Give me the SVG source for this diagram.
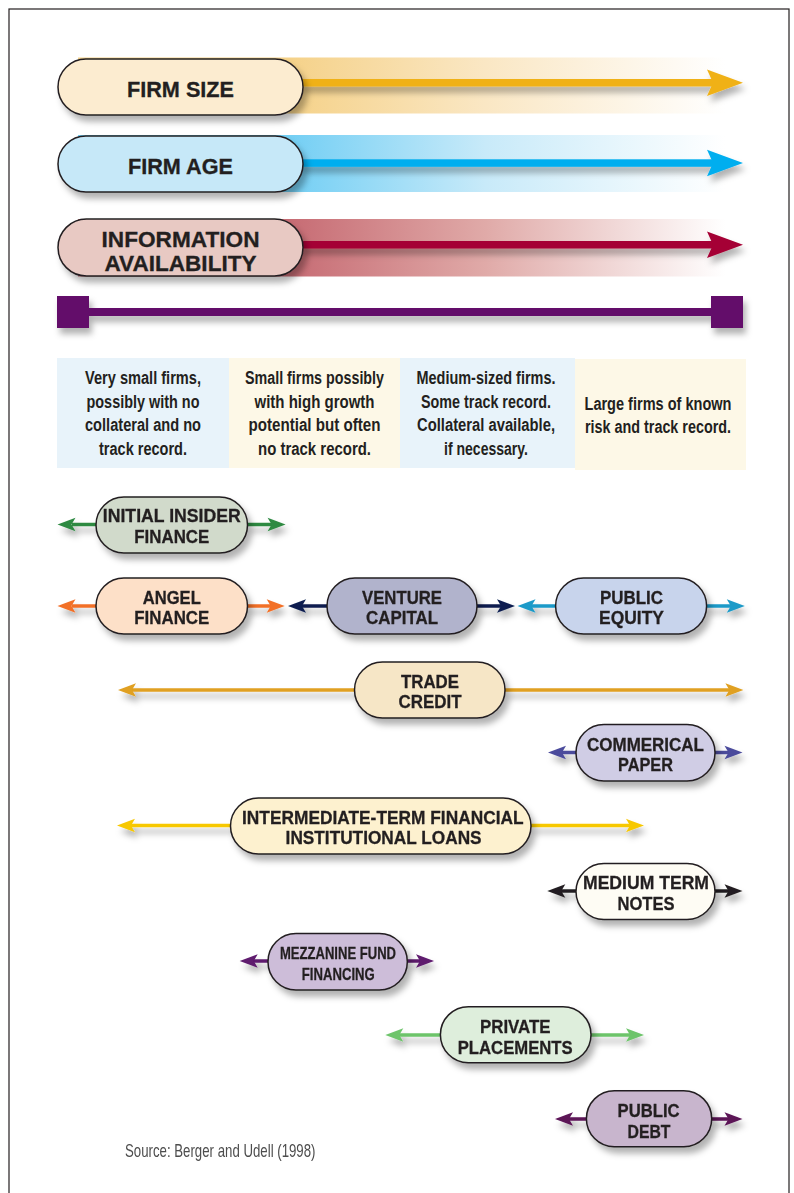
<svg xmlns="http://www.w3.org/2000/svg" xmlns:xlink="http://www.w3.org/1999/xlink" width="794" height="1193" viewBox="0 0 794 1193">
<defs>
<style>
.pill{stroke:#231f20;stroke-width:1.5}
.t{font-family:"Liberation Sans",Arial,sans-serif;font-weight:bold;fill:#231f20;text-anchor:middle;stroke:#231f20;stroke-width:0.3}
.big{font-size:22px}
.nd{font-size:18.5px}
.sm{font-size:17px}
.desc{font-family:"Liberation Sans",Arial,sans-serif;font-weight:bold;font-size:17.5px;fill:#231f20;text-anchor:middle}
.ln{stroke-width:3.5;fill:none}
</style>
<filter id="sh" x="-20%" y="-40%" width="140%" height="200%">
<feDropShadow dx="4" dy="6" stdDeviation="3" flood-color="#000" flood-opacity="0.3"/>
</filter>
<filter id="sh2" x="-10%" y="-100%" width="120%" height="400%">
<feDropShadow dx="3" dy="6" stdDeviation="3" flood-color="#000" flood-opacity="0.3"/>
</filter>
<linearGradient id="gSize" gradientUnits="userSpaceOnUse" x1="290" y1="0" x2="725" y2="0">
<stop offset="0" stop-color="#f5d28a"/>
<stop offset="0.45" stop-color="#fae7c4"/>
<stop offset="1" stop-color="#ffffff"/>
</linearGradient>
<linearGradient id="gAge" gradientUnits="userSpaceOnUse" x1="290" y1="0" x2="725" y2="0">
<stop offset="0" stop-color="#74cff4"/>
<stop offset="0.45" stop-color="#c8eaf9"/>
<stop offset="1" stop-color="#ffffff"/>
</linearGradient>
<linearGradient id="gInfo" gradientUnits="userSpaceOnUse" x1="290" y1="0" x2="725" y2="0">
<stop offset="0" stop-color="#c76c74"/>
<stop offset="0.45" stop-color="#e0aaa8"/>
<stop offset="1" stop-color="#ffffff"/>
</linearGradient>
<path id="ah" d="M0,0 L-18,-6.7 L-14,0 L-18,6.7 Z"/>
<path id="bh" d="M0,0 L-36,-13.3 L-30,0 L-36,13.3 Z"/>
</defs>

<rect x="9" y="9" width="780" height="1200" fill="#ffffff" stroke="#231f20" stroke-width="1.2"/>

<!-- header scales -->
<g id="firm-size">
<rect x="78" y="57.5" width="647" height="56" fill="url(#gSize)"/>
<g filter="url(#sh2)" fill="#f0b117">
<rect x="300" y="79" width="415" height="7.5"/>
<use xlink:href="#bh" x="743" y="82.7"/>
</g>
<rect class="pill" x="58" y="59" width="245" height="56" rx="28" fill="#fcecd0" filter="url(#sh)"/>
<text class="t big" x="180.5" y="97" textLength="107" lengthAdjust="spacingAndGlyphs">FIRM SIZE</text>
</g>

<g id="firm-age">
<rect x="78" y="135" width="647" height="57" fill="url(#gAge)"/>
<g filter="url(#sh2)" fill="#00aeef">
<rect x="300" y="159.3" width="415" height="7.5"/>
<use xlink:href="#bh" x="743" y="163"/>
</g>
<rect class="pill" x="58" y="136" width="245" height="56" rx="28" fill="#c6e8f8" filter="url(#sh)"/>
<text class="t big" x="180.5" y="174" textLength="105" lengthAdjust="spacingAndGlyphs">FIRM AGE</text>
</g>

<g id="info-availability">
<rect x="78" y="219" width="647" height="57.5" fill="url(#gInfo)"/>
<g filter="url(#sh2)" fill="#a50034">
<rect x="300" y="241" width="415" height="7.5"/>
<use xlink:href="#bh" x="743" y="244.7"/>
</g>
<rect class="pill" x="58" y="219" width="245" height="57" rx="28.5" fill="#e8c9c3" filter="url(#sh)"/>
<text class="t big" x="180.5" y="246.5" textLength="158" lengthAdjust="spacingAndGlyphs" font-size="23">INFORMATION</text>
<text class="t big" x="180.5" y="270.5" textLength="152" lengthAdjust="spacingAndGlyphs" font-size="23">AVAILABILITY</text>
</g>

<g id="scale-bar" fill="#640f6a" filter="url(#sh2)">
<rect x="85" y="308" width="630" height="8"/>
<rect x="57" y="296" width="32" height="32"/>
<rect x="711" y="296" width="32" height="32"/>
</g>

<!-- descriptions -->
<g id="desc-1">
<rect x="57" y="358" width="172" height="110" fill="#e8f3fa"/>
<text class="desc" x="143" y="384" textLength="116" lengthAdjust="spacingAndGlyphs">Very small firms,</text>
<text class="desc" x="143" y="408" textLength="113" lengthAdjust="spacingAndGlyphs">possibly with no</text>
<text class="desc" x="143" y="431" textLength="116" lengthAdjust="spacingAndGlyphs">collateral and no</text>
<text class="desc" x="143" y="455" textLength="88" lengthAdjust="spacingAndGlyphs">track record.</text>
</g>
<g id="desc-2">
<rect x="229" y="358" width="171" height="110" fill="#fdf8e7"/>
<text class="desc" x="314.5" y="384" textLength="139" lengthAdjust="spacingAndGlyphs">Small firms possibly</text>
<text class="desc" x="314.5" y="408" textLength="120" lengthAdjust="spacingAndGlyphs">with high growth</text>
<text class="desc" x="314.5" y="431" textLength="132" lengthAdjust="spacingAndGlyphs">potential but often</text>
<text class="desc" x="314.5" y="455" textLength="113" lengthAdjust="spacingAndGlyphs">no track record.</text>
</g>
<g id="desc-3">
<rect x="400" y="358" width="175" height="110" fill="#e8f3fa"/>
<text class="desc" x="486" y="384" textLength="139" lengthAdjust="spacingAndGlyphs">Medium-sized firms.</text>
<text class="desc" x="486" y="408" textLength="130" lengthAdjust="spacingAndGlyphs">Some track record.</text>
<text class="desc" x="486" y="431" textLength="138" lengthAdjust="spacingAndGlyphs">Collateral available,</text>
<text class="desc" x="486" y="455" textLength="84" lengthAdjust="spacingAndGlyphs">if necessary.</text>
</g>
<g id="desc-4">
<rect x="575" y="359" width="171" height="111" fill="#fdf8e7"/>
<text class="desc" x="658" y="410" textLength="147" lengthAdjust="spacingAndGlyphs">Large firms of known</text>
<text class="desc" x="658" y="433" textLength="146" lengthAdjust="spacingAndGlyphs">risk and track record.</text>
</g>

<!-- connectors -->
<g id="connectors" filter="url(#sh2)">
<line class="ln" stroke="#2f8a43" x1="72" y1="524.5" x2="96" y2="524.5"/>
<line class="ln" stroke="#2f8a43" x1="247" y1="524.5" x2="272" y2="524.5"/>
<use xlink:href="#ah" fill="#2f8a43" transform="translate(57.5,524.5) scale(-1,1)"/>
<use xlink:href="#ah" fill="#2f8a43" x="285.6" y="524.5"/>

<line class="ln" stroke="#f26f26" x1="72" y1="606" x2="96" y2="606"/>
<line class="ln" stroke="#f26f26" x1="247" y1="606" x2="271" y2="606"/>
<use xlink:href="#ah" fill="#f26f26" transform="translate(57.5,606) scale(-1,1)"/>
<use xlink:href="#ah" fill="#f26f26" x="284.7" y="606"/>

<line class="ln" stroke="#0c1e50" x1="302" y1="606" x2="327" y2="606"/>
<line class="ln" stroke="#0c1e50" x1="477" y1="606" x2="501" y2="606"/>
<use xlink:href="#ah" fill="#0c1e50" transform="translate(288,606) scale(-1,1)"/>
<use xlink:href="#ah" fill="#0c1e50" x="515" y="606"/>

<line class="ln" stroke="#1c9ac8" x1="531" y1="606" x2="556" y2="606"/>
<line class="ln" stroke="#1c9ac8" x1="706" y1="606" x2="731" y2="606"/>
<use xlink:href="#ah" fill="#1c9ac8" transform="translate(517.5,606) scale(-1,1)"/>
<use xlink:href="#ah" fill="#1c9ac8" x="744.8" y="606"/>

<line class="ln" stroke="#e0a020" x1="132" y1="690" x2="355" y2="690"/>
<line class="ln" stroke="#e0a020" x1="505" y1="690" x2="730" y2="690"/>
<use xlink:href="#ah" fill="#e0a020" transform="translate(118,690) scale(-1,1)"/>
<use xlink:href="#ah" fill="#e0a020" x="743.4" y="690"/>

<line class="ln" stroke="#4b4b9c" x1="562" y1="752.5" x2="576" y2="752.5"/>
<line class="ln" stroke="#4b4b9c" x1="715" y1="752.5" x2="729" y2="752.5"/>
<use xlink:href="#ah" fill="#4b4b9c" transform="translate(548,752.5) scale(-1,1)"/>
<use xlink:href="#ah" fill="#4b4b9c" x="742.5" y="752.5"/>

<line class="ln" stroke="#f7c800" x1="131" y1="825.5" x2="231" y2="825.5"/>
<line class="ln" stroke="#f7c800" x1="531" y1="825.5" x2="630" y2="825.5"/>
<use xlink:href="#ah" fill="#f7c800" transform="translate(117,825.5) scale(-1,1)"/>
<use xlink:href="#ah" fill="#f7c800" x="644" y="825.5"/>

<line class="ln" stroke="#231f20" x1="561" y1="891" x2="576" y2="891"/>
<line class="ln" stroke="#231f20" x1="715" y1="891" x2="729" y2="891"/>
<use xlink:href="#ah" fill="#231f20" transform="translate(547.3,891) scale(-1,1)"/>
<use xlink:href="#ah" fill="#231f20" x="742.5" y="891"/>

<line class="ln" stroke="#5e1a6e" x1="253" y1="961" x2="268" y2="961"/>
<line class="ln" stroke="#5e1a6e" x1="407" y1="961" x2="420" y2="961"/>
<use xlink:href="#ah" fill="#5e1a6e" transform="translate(239.7,961) scale(-1,1)"/>
<use xlink:href="#ah" fill="#5e1a6e" x="434" y="961"/>

<line class="ln" stroke="#6dc46b" x1="399" y1="1035" x2="441" y2="1035"/>
<line class="ln" stroke="#6dc46b" x1="591" y1="1035" x2="630" y2="1035"/>
<use xlink:href="#ah" fill="#6dc46b" transform="translate(385.3,1035) scale(-1,1)"/>
<use xlink:href="#ah" fill="#6dc46b" x="644" y="1035"/>

<line class="ln" stroke="#5b1357" x1="569" y1="1119" x2="587" y2="1119"/>
<line class="ln" stroke="#5b1357" x1="711" y1="1119" x2="729" y2="1119"/>
<use xlink:href="#ah" fill="#5b1357" transform="translate(555,1119) scale(-1,1)"/>
<use xlink:href="#ah" fill="#5b1357" x="742.5" y="1119"/>
</g>

<!-- nodes -->
<g id="initial-insider-finance">
<rect class="pill" x="96" y="497" width="151.5" height="56" rx="28" fill="#d1dacb" filter="url(#sh)"/>
<text class="t nd" x="171.8" y="522.3" textLength="138" lengthAdjust="spacingAndGlyphs">INITIAL INSIDER</text>
<text class="t nd" x="171.8" y="542.7" textLength="75" lengthAdjust="spacingAndGlyphs">FINANCE</text>
</g>
<g id="angel-finance">
<rect class="pill" x="96" y="578" width="151.5" height="56" rx="28" fill="#fde0c8" filter="url(#sh)"/>
<text class="t nd" x="171.8" y="603.5" textLength="58" lengthAdjust="spacingAndGlyphs">ANGEL</text>
<text class="t nd" x="171.8" y="624" textLength="75" lengthAdjust="spacingAndGlyphs">FINANCE</text>
</g>
<g id="venture-capital">
<rect class="pill" x="327" y="578" width="150" height="56" rx="28" fill="#b1b3cc" filter="url(#sh)"/>
<text class="t nd" x="402" y="603.5" textLength="80" lengthAdjust="spacingAndGlyphs">VENTURE</text>
<text class="t nd" x="402" y="624" textLength="72" lengthAdjust="spacingAndGlyphs">CAPITAL</text>
</g>
<g id="public-equity">
<rect class="pill" x="555.6" y="578" width="151" height="56" rx="28" fill="#c8d4ec" filter="url(#sh)"/>
<text class="t nd" x="631.5" y="603.5" textLength="63" lengthAdjust="spacingAndGlyphs">PUBLIC</text>
<text class="t nd" x="631.5" y="624" textLength="65" lengthAdjust="spacingAndGlyphs">EQUITY</text>
</g>
<g id="trade-credit">
<rect class="pill" x="354.5" y="662" width="150.5" height="56" rx="28" fill="#f6e6c6" filter="url(#sh)"/>
<text class="t nd" x="430" y="687.5" textLength="58" lengthAdjust="spacingAndGlyphs">TRADE</text>
<text class="t nd" x="430" y="708" textLength="63" lengthAdjust="spacingAndGlyphs">CREDIT</text>
</g>
<g id="commercial-paper">
<rect class="pill" x="576" y="724.5" width="139" height="56.5" rx="28" fill="#d0cde5" filter="url(#sh)"/>
<text class="t nd" x="645.5" y="750.5" textLength="117" lengthAdjust="spacingAndGlyphs">COMMERICAL</text>
<text class="t nd" x="645.5" y="770.7" textLength="55" lengthAdjust="spacingAndGlyphs">PAPER</text>
</g>
<g id="intermediate-term-loans">
<rect class="pill" x="230.5" y="798" width="300.5" height="56" rx="28" fill="#fdf1cf" filter="url(#sh)"/>
<text class="t nd" x="382.8" y="823.5" textLength="281.5" lengthAdjust="spacingAndGlyphs">INTERMEDIATE-TERM FINANCIAL</text>
<text class="t nd" x="383.6" y="844" textLength="196" lengthAdjust="spacingAndGlyphs">INSTITUTIONAL LOANS</text>
</g>
<g id="medium-term-notes">
<rect class="pill" x="576" y="863.5" width="139" height="56" rx="28" fill="#fefcf4" filter="url(#sh)"/>
<text class="t nd" x="646" y="888.5" textLength="126" lengthAdjust="spacingAndGlyphs">MEDIUM TERM</text>
<text class="t nd" x="646" y="910" textLength="57" lengthAdjust="spacingAndGlyphs">NOTES</text>
</g>
<g id="mezzanine-fund-financing">
<rect class="pill" x="268" y="933.5" width="139.3" height="56.5" rx="28" fill="#cdbdd9" filter="url(#sh)"/>
<text class="t sm" x="338" y="959" textLength="116" lengthAdjust="spacingAndGlyphs">MEZZANINE FUND</text>
<text class="t sm" x="338.3" y="980" textLength="73" lengthAdjust="spacingAndGlyphs">FINANCING</text>
</g>
<g id="private-placements">
<rect class="pill" x="440.4" y="1006.7" width="150.6" height="56" rx="28" fill="#deeedc" filter="url(#sh)"/>
<text class="t nd" x="515.3" y="1032.5" textLength="70.6" lengthAdjust="spacingAndGlyphs">PRIVATE</text>
<text class="t nd" x="515.2" y="1053.5" textLength="115" lengthAdjust="spacingAndGlyphs">PLACEMENTS</text>
</g>
<g id="public-debt">
<rect class="pill" x="586.4" y="1090.7" width="125.3" height="56" rx="28" fill="#c8b5cd" filter="url(#sh)"/>
<text class="t nd" x="648.6" y="1116.5" textLength="62" lengthAdjust="spacingAndGlyphs">PUBLIC</text>
<text class="t nd" x="649" y="1137.5" textLength="43" lengthAdjust="spacingAndGlyphs">DEBT</text>
</g>

<text x="125" y="1157" font-family="'Liberation Sans',Arial,sans-serif" font-size="18.5" fill="#4d4d4d" textLength="190.5" lengthAdjust="spacingAndGlyphs">Source: Berger and Udell (1998)</text>
</svg>
